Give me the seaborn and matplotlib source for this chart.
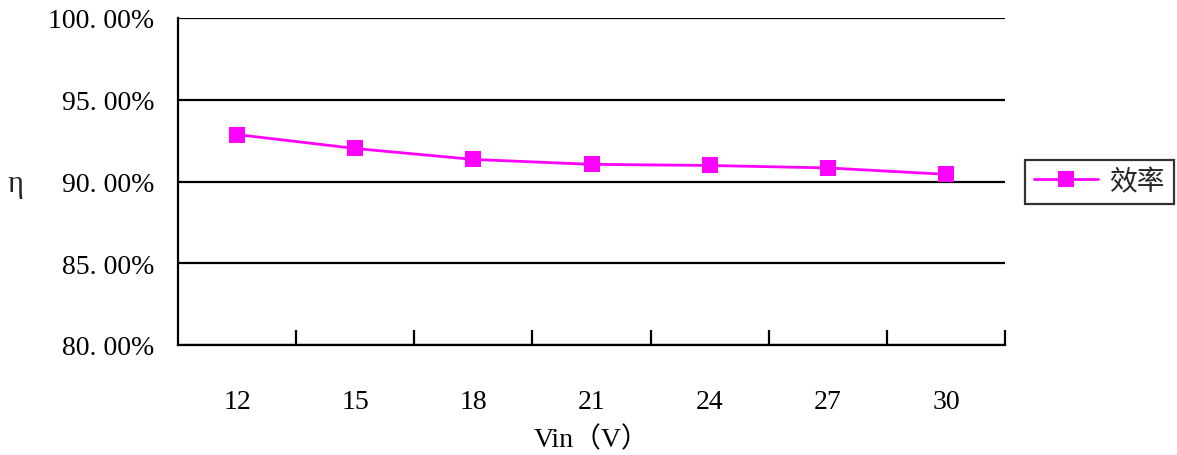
import matplotlib
matplotlib.use("Agg")
import matplotlib.pyplot as plt
import seaborn as sns
import pandas as pd
import numpy as np
from matplotlib.ticker import FuncFormatter, FixedLocator

# Input voltage (V) and measured efficiency (%)
vin = ["12", "15", "18", "21", "24", "27", "30"]
efficiency = [92.87, 92.02, 91.35, 91.05, 90.98, 90.83, 90.44]
series_name = "效率"

sns.set_theme(style="white")
plt.rcParams["font.family"] = ["Liberation Serif", "Noto Sans CJK SC", "DejaVu Sans"]

FS = 20

df = pd.DataFrame({"Vin": vin, "eff": efficiency, "series": series_name})

fig = plt.figure(figsize=(11.77, 4.56), dpi=100)
ax = fig.add_axes([178 / 1177, 1 - 346 / 456, (1005 - 178) / 1177, (346 - 19) / 456])

sns.lineplot(data=df, x="Vin", y="eff", hue="series", palette=["#FF00FF"],
             marker="s", markersize=11, markeredgewidth=0, linewidth=2,
             ax=ax, sort=False)

ax.set_ylim(80, 100)
ax.set_xlim(-0.5, len(vin) - 0.5)
ax.set_yticks([80, 85, 90, 95, 100])
ax.yaxis.set_major_formatter(FuncFormatter(lambda v, p: f"{v:.2f}%".replace(".", ". ")))
ax.grid(axis="y", color="black", linewidth=1.6)
ax.grid(axis="x", visible=False)
ax.set_axisbelow(True)

for side in ["top", "right"]:
    ax.spines[side].set_visible(False)
for side in ["left", "bottom"]:
    ax.spines[side].set_color("black")
    ax.spines[side].set_linewidth(1.6)

ax.tick_params(axis="y", length=0, pad=17, labelsize=FS, colors="black")
ax.set_xticks(range(len(vin)))
ax.set_xticklabels(vin)
ax.tick_params(axis="x", which="major", bottom=True, length=0, pad=32, labelsize=FS, colors="black")
ax.xaxis.set_minor_locator(FixedLocator(np.arange(0.5, len(vin), 1.0)))
ax.tick_params(axis="x", which="minor", bottom=True, direction="in", length=11, width=1.6, color="black")

ax.set_xlabel("Vin（V）", fontsize=FS, color="black", labelpad=8)
ax.set_ylabel("")
fig.text(15 / 1177, 1 - 185 / 456, "η", fontsize=22, ha="center", va="center")

handles, labels = ax.get_legend_handles_labels()
leg = ax.legend(handles, labels, loc="center left", bbox_to_anchor=(1025 / 1177, 1 - 183 / 456),
                bbox_transform=fig.transFigure, frameon=True, fancybox=False,
                edgecolor="black", fontsize=FS, borderaxespad=0, handlelength=2.3,
                borderpad=0.33, handletextpad=0.4)
leg.get_frame().set_linewidth(1.6)

fig.savefig("out.png", dpi=100, facecolor="white")
